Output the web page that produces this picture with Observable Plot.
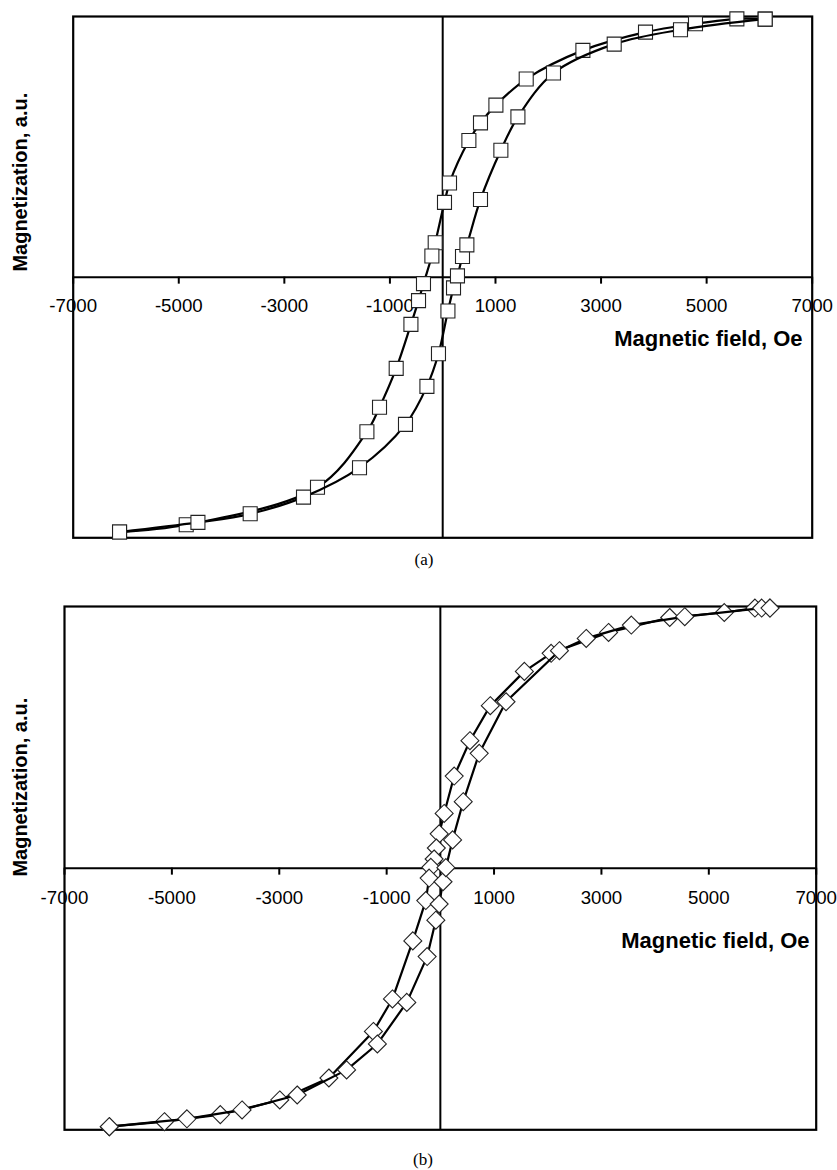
<!DOCTYPE html>
<html><head><meta charset="utf-8">
<script src="https://cdn.jsdelivr.net/npm/d3@7"></script>
<script src="https://cdn.jsdelivr.net/npm/@observablehq/plot@0.6"></script>
<style>
html,body{margin:0;padding:0;background:#fff;}
#wrap{position:relative;width:837px;height:1170px;overflow:hidden;background:#fff;}
.panel{position:absolute;left:0;}
.cap{position:absolute;font-family:"Liberation Serif","Times New Roman",serif;font-size:17px;line-height:20px;color:#000;transform:translateX(-50%);white-space:nowrap;}
</style></head>
<body><div id="wrap"></div>
<script>
// ---- data ----
const xTicks = [-7000, -5000, -3000, -1000, 1000, 3000, 5000, 7000];
const xTitle = "Magnetic field, Oe";
const yTitle = "Magnetization, a.u.";
const captions = ["(a)", "(b)"];

// Panel (a): squares, smoothed lines
const aDescH = [6109, 5573, 4789, 3842, 2656, 1582, 1008, 716, 496, 129, 34, -142, -205, -364, -458, -602, -881, -1197, -1436, -2372, -4859, -6122];
const aDescM = [0.990, 0.991, 0.972, 0.940, 0.870, 0.760, 0.660, 0.592, 0.524, 0.361, 0.287, 0.132, 0.081, -0.025, -0.090, -0.181, -0.350, -0.499, -0.593, -0.806, -0.950, -0.978];
const aAscH = [-6122, -4637, -3647, -2637, -1576, -705, -299, -80, 99, 205, 280, 375, 458, 716, 1102, 1425, 2099, 3249, 4505, 6109];
const aAscM = [-0.978, -0.941, -0.908, -0.844, -0.731, -0.565, -0.419, -0.294, -0.130, -0.041, 0.005, 0.079, 0.124, 0.298, 0.487, 0.615, 0.783, 0.894, 0.949, 0.990];

// Panel (b): diamonds, straight lines
const bDescH = [6139, 5859, 5288, 4272, 3133, 2063, 1565, 930, 551, 258, 71, -22, -75, -116, -177, -209, -271, -513, -892, -1247, -2076, -2991, -4098, -5138, -6165];
const bDescM = [0.994, 0.994, 0.977, 0.958, 0.901, 0.821, 0.752, 0.621, 0.487, 0.352, 0.209, 0.131, 0.077, 0.035, 0.003, -0.038, -0.124, -0.278, -0.500, -0.624, -0.802, -0.886, -0.942, -0.969, -0.988];
const bAscH = [-6165, -4720, -3693, -2666, -1746, -1173, -625, -246, -84, -22, 50, 103, 228, 426, 724, 1223, 2218, 2717, 3557, 4552, 5984, 6139];
const bAscM = [-0.988, -0.958, -0.924, -0.867, -0.771, -0.672, -0.513, -0.338, -0.199, -0.137, -0.052, 0.002, 0.108, 0.254, 0.439, 0.636, 0.831, 0.878, 0.929, 0.961, 0.994, 0.994];

const zip = (H, M) => H.map((h, i) => ({H: h, M: M[i]}));
const FONT = "'Liberation Sans', Arial, Helvetica, sans-serif";

function panel(cfg) {
  const W = 837, Ht = 560;
  const frameH = Ht - cfg.mt - cfg.mb;
  const series = [zip(cfg.descH, cfg.descM), zip(cfg.ascH, cfg.ascM)];
  const marks = [
    Plot.ruleY([0], {stroke: "#000", strokeWidth: 2}),
    Plot.ruleX([0], {stroke: "#000", strokeWidth: 2}),
    Plot.frame({stroke: "#000", strokeWidth: 2.2}),
    Plot.axisX({
      anchor: "bottom", dy: -frameH / 2, ticks: xTicks,
      tickFormat: d => String(d), tickSize: 7, tickPadding: cfg.pad,
      strokeWidth: 2, stroke: "#000", fill: "#000",
      fontSize: 18.7, fontFamily: FONT, label: null
    }),
    Plot.text([xTitle], {frameAnchor: "right", text: d => d, textAnchor: "end", lineAnchor: "middle",
      dx: cfg.xtDx, dy: cfg.xtDy, fontWeight: "bold", fontSize: 22, fontFamily: FONT, fill: "#000"}),
    Plot.text([yTitle], {frameAnchor: "left", text: d => d, rotate: -90, textAnchor: "middle", lineAnchor: "middle",
      dx: cfg.ytDx, dy: cfg.ytDy, fontWeight: "bold", fontSize: 20, fontFamily: FONT, fill: "#000"})
  ];
  for (const s of series) {
    marks.push(Plot.line(s, {x: "H", y: "M", curve: cfg.curve, stroke: "#000", strokeWidth: 2.2}));
    marks.push(Plot.dot(s, {x: "H", y: "M", symbol: cfg.symbol, r: cfg.r, fill: "#fff", stroke: "#222", strokeWidth: 1.1}));
  }
  return Plot.plot({
    width: W, height: Ht,
    marginLeft: cfg.ml, marginRight: cfg.mr, marginTop: cfg.mt, marginBottom: cfg.mb,
    x: {domain: [-7000, 7000], axis: null},
    y: {domain: [-1, 1], axis: null},
    style: {background: "#fff", color: "#000", fontFamily: FONT, overflow: "visible"},
    marks
  });
}

const wrap = document.getElementById("wrap");
const cfgs = [
  {top: 0, ml: 72.7, mr: 25.3, mt: 16, mb: 22.7, pad: 15, xtDx: -9.7, xtDy: 61.5, ytDx: -52.7, ytDy: -95,
   descH: aDescH, descM: aDescM, ascH: aAscH, ascM: aAscM, curve: "catmull-rom", symbol: "square", r: 7.9,
   cap: captions[0], capX: 424, capY: 550},
  {top: 590, ml: 64, mr: 21.3, mt: 16, mb: 20.7, pad: 16, xtDx: -6.7, xtDy: 72.5, ytDx: -44, ytDy: -81,
   descH: bDescH, descM: bDescM, ascH: bAscH, ascM: bAscM, curve: "linear", symbol: "diamond2", r: 8.1,
   cap: captions[1], capX: 423, capY: 1150}
];
for (const c of cfgs) {
  const svg = panel(c);
  const holder = document.createElement("div");
  holder.className = "panel";
  holder.style.top = c.top + "px";
  holder.appendChild(svg);
  wrap.appendChild(holder);
  const cap = document.createElement("div");
  cap.className = "cap";
  cap.textContent = c.cap;
  cap.style.left = c.capX + "px";
  cap.style.top = c.capY + "px";
  wrap.appendChild(cap);
}
</script>
</body></html>
